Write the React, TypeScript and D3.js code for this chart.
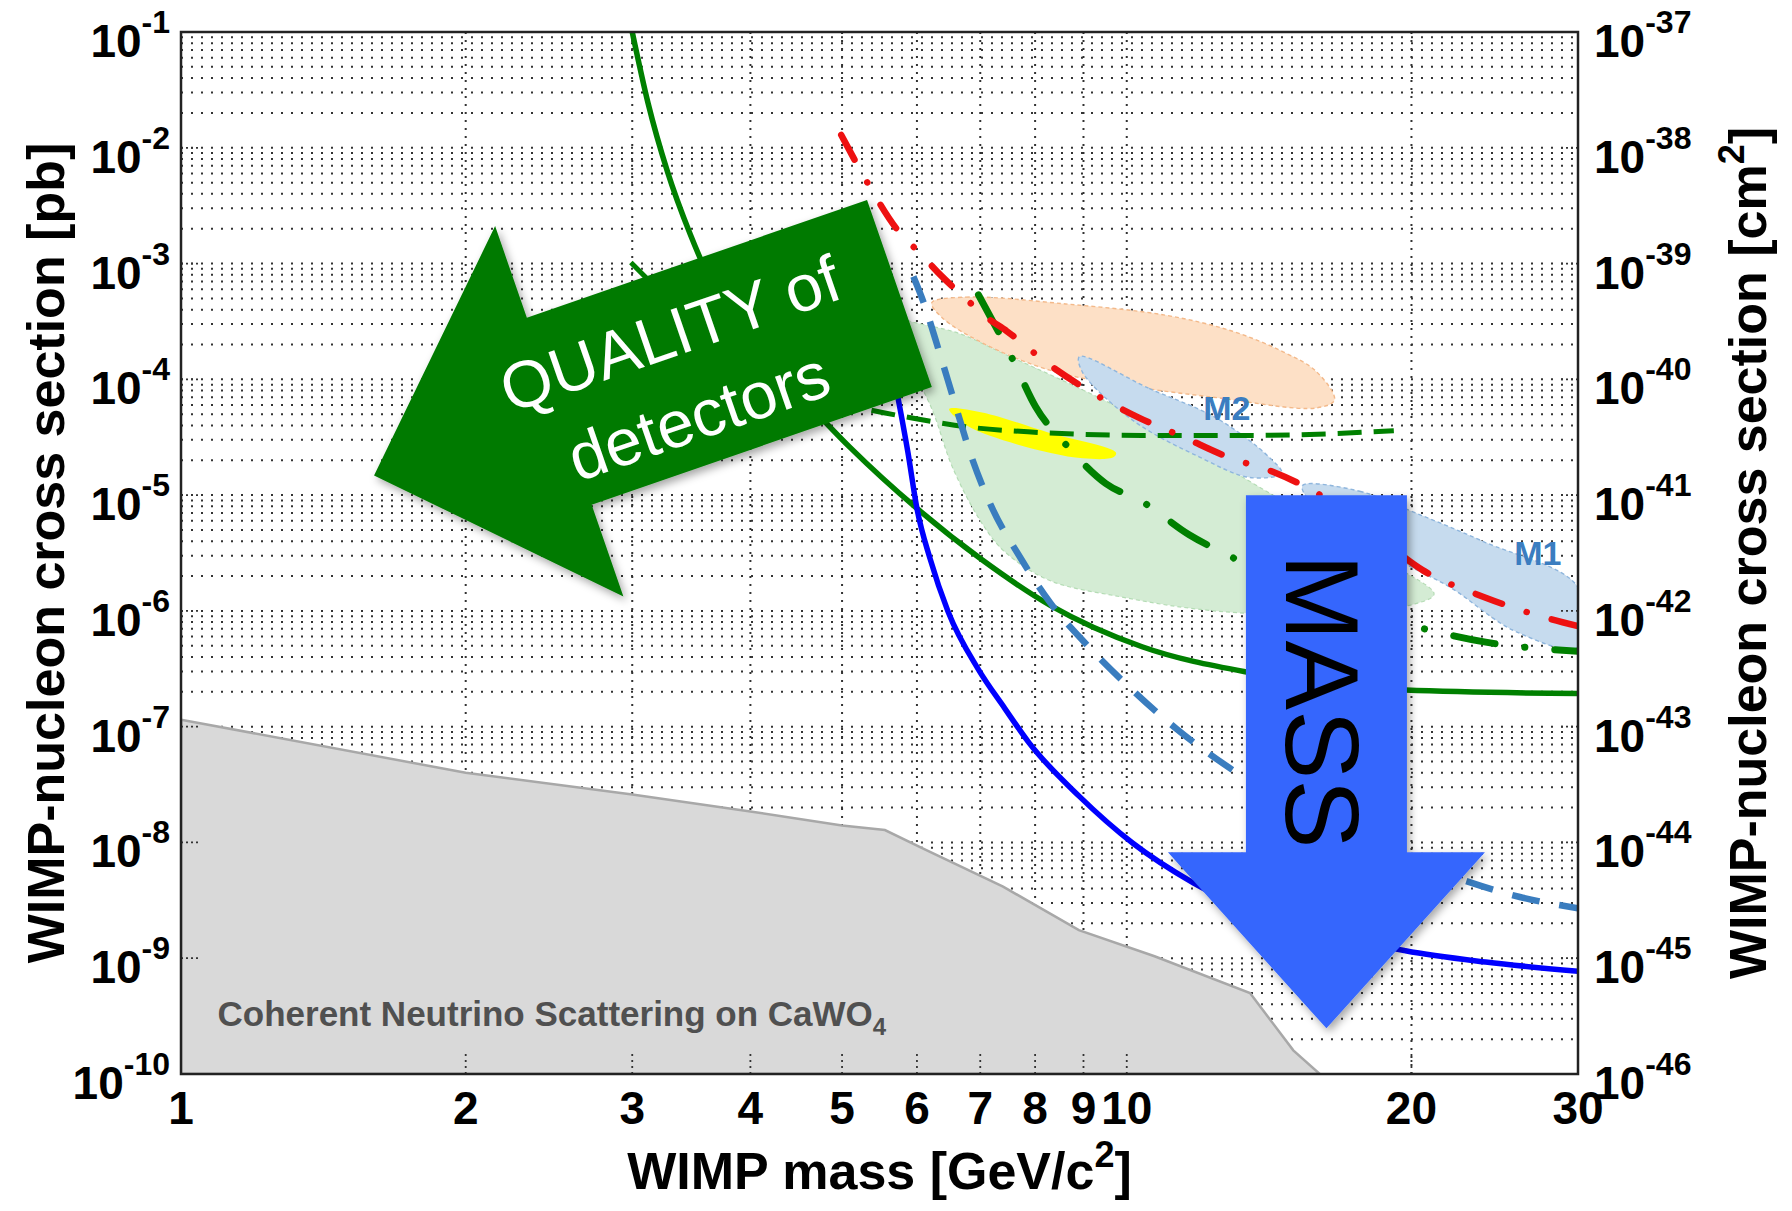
import React from "react";
import * as d3 from "d3";

type Pt = [number, number];

const WIDTH = 1792;
const HEIGHT = 1211;
const PLOT = { left: 181, right: 1578, top: 32, bottom: 1074 };
const FONT = "'Liberation Sans', Arial, Helvetica, sans-serif";

// axes
const massTicks = [1, 2, 3, 4, 5, 6, 7, 8, 9, 10, 20, 30];
const pbExponents = [-1, -2, -3, -4, -5, -6, -7, -8, -9, -10];
const cm2Exponents = [-37, -38, -39, -40, -41, -42, -43, -44, -45, -46];

// coherent neutrino scattering floor on CaWO4 (mass GeV, sigma pb)
const neutrinoFloor: Pt[] = [
  [1, 1.15e-7], [2, 4.0e-8], [3, 2.6e-8], [4, 1.85e-8], [5, 1.4e-8],
  [5.55, 1.28e-8], [6.1, 8.8e-9], [7.4, 4.15e-9], [8.9, 1.75e-9],
  [10.7, 1.04e-9], [13.5, 5.0e-10], [15, 1.6e-10], [16, 1e-10],
];

// signal / allowed regions
const greenRegion: Pt[] = [
  [5.51, 3.65e-4], [5.95, 3.11e-4], [6.66, 2.48e-4], [7.43, 1.65e-4], [8.66, 9.33e-5],
  [10.1, 5.06e-5], [11.94, 2.39e-5], [13.72, 1.21e-5], [16.22, 5.46e-6], [19.16, 2.46e-6],
  [21.13, 1.4e-6], [20.26, 1.16e-6], [17.15, 9.93e-7], [13.72, 9.48e-7], [11.61, 1.06e-6],
  [9.82, 1.33e-6], [8.29, 1.83e-6], [7.43, 3.24e-6], [7.03, 5.7e-6], [6.55, 1.7e-5],
  [6.2, 5.93e-5], [5.87, 1.31e-4], [5.51, 2.07e-4],
];
const orangeRegion: Pt[] = [
  [6.22, 4.58e-4], [6.76, 5.13e-4], [8.62, 4.48e-4], [11.01, 3.57e-4], [12.94, 2.6e-4],
  [14.63, 1.73e-4], [15.86, 1.17e-4], [16.58, 6.64e-5], [15.86, 5.66e-5], [12.45, 6.95e-5],
  [9.74, 9.12e-5], [8.29, 1.2e-4], [7.03, 2.07e-4], [6.38, 3.41e-4],
];
const m2Region: Pt[] = [
  [8.91, 1.57e-4], [10.56, 8.34e-5], [12.45, 4.61e-5], [14.14, 2.13e-5], [14.58, 1.55e-5],
  [13.49, 1.42e-5], [11.94, 2.13e-5], [10.15, 4.42e-5], [8.98, 1.15e-4],
];
const m1Region: Pt[] = [
  [15.34, 1.21e-5], [17.63, 1.08e-5], [20.21, 7.0e-6], [23.83, 3.97e-6], [30, 1.6e-6],
  [30, 4.9e-7], [25.82, 6.59e-7], [21.97, 1.6e-6], [19.76, 2.52e-6], [17.15, 5.21e-6],
  [15.56, 9.2e-6],
];
const yellowRegion: Pt[] = [
  [6.49, 5.53e-5], [7.03, 5.18e-5], [8.29, 3.44e-5], [9.74, 2.33e-5], [9.69, 2.13e-5],
  [8.98, 2.08e-5], [7.66, 2.74e-5], [6.76, 4.03e-5],
];

// exclusion limits
const greenSolid: Pt[] = [
  [3.0, 0.1], [3.117, 2.45e-2], [3.268, 6.25e-3], [3.455, 1.79e-3], [3.652, 6.44e-4],
  [3.916, 2.6e-4], [4.502, 7.44e-5], [5.104, 2.56e-5], [6.0, 7.67e-6], [7.03, 2.76e-6],
  [8.31, 1.11e-6], [10.38, 4.9e-7], [13.34, 2.98e-7], [15.77, 2.43e-7], [19.71, 2.07e-7],
  [30, 1.93e-7],
];
const greenDashed: Pt[] = [
  [2.99, 1.02e-3], [3.408, 3.65e-4], [3.916, 1.47e-4], [4.502, 7.96e-5], [5.175, 5.8e-5],
  [5.948, 4.61e-5], [6.84, 3.85e-5], [7.86, 3.52e-5], [10.38, 3.28e-5], [13.72, 3.28e-5],
  [19.16, 3.6e-5],
];
const greenDashDot: Pt[] = [
  [6.97, 5.37e-4], [7.58, 1.47e-4], [8.01, 5.8e-5], [8.62, 2.74e-5], [9.5, 1.26e-5],
  [10.38, 8.79e-6], [11.64, 4.55e-6], [12.8, 3.02e-6], [15.77, 1.4e-6], [20.55, 7.06e-7],
  [23.96, 5.37e-7], [30, 4.48e-7],
];
const redDashDot: Pt[] = [
  [4.99, 1.29e-2], [5.32, 4.98e-3], [5.72, 1.96e-3], [6.05, 1.22e-3], [6.36, 7.9e-4],
  [6.71, 5.25e-4], [7.09, 3.49e-4], [7.47, 2.6e-4], [8.31, 1.31e-4], [9.21, 7.6e-5],
  [10.27, 4.72e-5], [11.51, 3.14e-5], [12.8, 2.13e-5], [14.27, 1.59e-5], [15.86, 1.05e-5],
  [18.13, 4.86e-6], [20.55, 2.25e-6], [23.96, 1.3e-6], [26.78, 9.5e-7], [30, 7.38e-7],
];
const blueDashed: Pt[] = [
  [5.948, 7.73e-4], [6.1, 4.58e-4], [6.34, 1.69e-4], [6.58, 6.21e-5], [6.84, 2.23e-5],
  [7.19, 8.02e-6], [7.69, 3.02e-6], [8.31, 1.16e-6], [9.05, 5.2e-7], [10.0, 2.3e-7],
  [11.3, 9.5e-8], [13.16, 3.85e-8], [22.65, 4.75e-9], [26.04, 3.38e-9], [30, 2.7e-9],
];
const blueSolid: Pt[] = [
  [5.705, 8.34e-5], [5.867, 2.39e-5], [6.0, 7.67e-6], [6.2, 2.76e-6], [6.47, 9.93e-7],
  [6.97, 3.11e-7], [7.43, 1.44e-7], [7.88, 7.28e-8], [8.91, 2.5e-8], [10.15, 9.84e-9],
  [11.77, 4.45e-9], [19.71, 1.16e-9], [23.96, 9.27e-10], [30, 7.73e-10],
];

// annotation anchors (mass, sigma) of arrow tips and labels
const qualityTip: Pt = [1.6, 1.48e-5];
const massTip: Pt = [16.26, 2.48e-10];
const m2Label: Pt = [12.76, 5.66e-5];
const m1Label: Pt = [27.2, 3.16e-6];
const floorLabel: Pt = [1.093, 2.6e-10];

function arrowPoints(tip: Pt, angleDeg: number, headLen: number, headHalf: number, shaftLen: number, shaftHalf: number): Pt[] {
  const a = (angleDeg * Math.PI) / 180;
  const u = [Math.cos(a), Math.sin(a)];
  const n = [-u[1], u[0]];
  const p = (s: number, t: number): Pt => [tip[0] + u[0] * s + n[0] * t, tip[1] + u[1] * s + n[1] * t];
  return [
    p(0, 0), p(headLen, headHalf), p(headLen, shaftHalf), p(headLen + shaftLen, shaftHalf),
    p(headLen + shaftLen, -shaftHalf), p(headLen, -shaftHalf), p(headLen, -headHalf),
  ];
}

export default function App() {
  const x = d3.scaleLog().domain([1, 30]).range([PLOT.left, PLOT.right]);
  const y = d3.scaleLog().domain([1e-10, 1e-1]).range([PLOT.bottom, PLOT.top]);

  const curve = d3.line<Pt>().x((d) => x(d[0])).y((d) => y(d[1])).curve(d3.curveMonotoneX);
  const blob = d3.line<Pt>().x((d) => x(d[0])).y((d) => y(d[1])).curve(d3.curveCatmullRomClosed.alpha(0.5));
  const poly = d3.line<Pt>().x((d) => x(d[0])).y((d) => y(d[1]));

  const gridY: number[] = [];
  for (let e = -10; e <= -2; e++) for (let k = 1; k <= 9; k++) gridY.push(k * Math.pow(10, e));

  const floorArea = poly([...neutrinoFloor, [16, 1e-10], [1, 1e-10]]) + "Z";

  const qTip: Pt = [x(qualityTip[0]), y(qualityTip[1])];
  const qAngle = -19.1;
  const qArrow = arrowPoints(qTip, qAngle, 196, 196, 360, 99);
  const qa = (qAngle * Math.PI) / 180;
  const qCenter: Pt = [qTip[0] + Math.cos(qa) * 326 - Math.sin(qa) * 6, qTip[1] + Math.sin(qa) * 326 + Math.cos(qa) * 6];

  const mTip: Pt = [x(massTip[0]), y(massTip[1])];
  const mArrow = arrowPoints(mTip, -90, 176, 158.5, 357, 80.5);
  const mCenter: Pt = [mTip[0] - 3, mTip[1] - 327];

  const toPath = (pts: Pt[]) => "M" + pts.map((p) => p.join(",")).join("L") + "Z";

  const W = PLOT.right - PLOT.left;
  const H = PLOT.bottom - PLOT.top;

  return (
    <svg width={WIDTH} height={HEIGHT} style={{ position: "absolute", left: 0, top: 0, background: "#fff" }} fontFamily={FONT}>
      <defs>
        <clipPath id="plot">
          <rect x={PLOT.left} y={PLOT.top} width={W} height={H} />
        </clipPath>
        <filter id="shadow" x="-20%" y="-20%" width="140%" height="140%">
          <feDropShadow dx="3" dy="4" stdDeviation="4" floodColor="#000" floodOpacity="0.35" />
        </filter>
      </defs>

      <rect x={PLOT.left} y={PLOT.top} width={W} height={H} fill="#fff" />

      {/* grid */}
      <g stroke="#1e1e1e" strokeWidth={2} strokeDasharray="2,8" opacity={0.9}>
        {gridY.map((v, i) => (
          <line key={i} x1={PLOT.left} x2={PLOT.right} y1={y(v)} y2={y(v)} />
        ))}
        {massTicks.slice(1, -1).map((m) => (
          <line key={m} x1={x(m)} x2={x(m)} y1={PLOT.top} y2={PLOT.bottom} strokeDasharray="2,6" />
        ))}
      </g>

      <g clipPath="url(#plot)">
        {/* regions */}
        <path d={blob(greenRegion)!} fill="#d4ecd4" stroke="#b5dcb5" strokeWidth={1.2} strokeDasharray="4,3" />
        <path d={blob(orangeRegion)!} fill="#fde0c6" stroke="#f3b98a" strokeWidth={1.4} strokeDasharray="4,3" />
        <path d={blob(m2Region)!} fill="#c6dbee" stroke="#8fb6dd" strokeWidth={1.4} strokeDasharray="4,3" />
        <path d={blob(m1Region)!} fill="#c6dbee" stroke="#8fb6dd" strokeWidth={1.4} strokeDasharray="4,3" />
        <path d={blob(yellowRegion)!} fill="#ffff00" />

        {/* neutrino floor */}
        <path d={floorArea} fill="#d9d9d9" stroke="#a8a8a8" strokeWidth={2.5} />

        {/* limits */}
        <path d={curve(greenSolid)!} fill="none" stroke="#008000" strokeWidth={5.5} />
        <path d={curve(greenDashed)!} fill="none" stroke="#008000" strokeWidth={5} strokeDasharray="24,12" />
        <path d={curve(greenDashDot)!} fill="none" stroke="#008000" strokeWidth={7} strokeDasharray="42,30,0.1,30" strokeLinecap="round" />
        <path d={curve(redDashDot)!} fill="none" stroke="#ee1111" strokeWidth={6.5} strokeDasharray="28,26,0.1,26" strokeLinecap="round" />
        <path d={curve(blueDashed)!} fill="none" stroke="#3a7dbf" strokeWidth={6.5} strokeDasharray="28,20" />
        <path d={curve(blueSolid)!} fill="none" stroke="#0000ff" strokeWidth={5.5} />
      </g>

      {/* ticks */}
      <g stroke="#333" strokeWidth={1.8}>
        {pbExponents.map((e) => (
          <g key={e}>
            <line x1={PLOT.left} x2={PLOT.left + 18} y1={y(Math.pow(10, e))} y2={y(Math.pow(10, e))} strokeDasharray="2,3" />
            <line x1={PLOT.right} x2={PLOT.right - 18} y1={y(Math.pow(10, e))} y2={y(Math.pow(10, e))} strokeDasharray="2,3" />
          </g>
        ))}
        {massTicks.map((m) => (
          <line key={m} x1={x(m)} x2={x(m)} y1={PLOT.bottom} y2={PLOT.bottom - 24} strokeDasharray="2,4" />
        ))}
      </g>

      {/* frame */}
      <rect x={PLOT.left} y={PLOT.top} width={W} height={H} fill="none" stroke="#222" strokeWidth={2.5} />

      {/* region labels */}
      <text x={x(m2Label[0])} y={y(m2Label[1])} dy="0.36em" textAnchor="middle" fontSize={34} fontWeight="bold" fill="#3b7dc0">M2</text>
      <text x={x(m1Label[0])} y={y(m1Label[1])} dy="0.36em" textAnchor="middle" fontSize={34} fontWeight="bold" fill="#3b7dc0">M1</text>
      <text x={x(floorLabel[0])} y={y(floorLabel[1])} fontSize={35} fontWeight="bold" fill="#505050">
        Coherent Neutrino Scattering on CaWO<tspan fontSize={24} dy={9}>4</tspan>
      </text>

      {/* arrows */}
      <g filter="url(#shadow)">
        <path d={toPath(qArrow)} fill="#037a03" />
        <path d={toPath(mArrow)} fill="#3466fd" />
      </g>
      <g transform={`translate(${qCenter[0]},${qCenter[1]}) rotate(${qAngle})`} fill="#fff" fontSize={66} textAnchor="middle">
        <text x={0} y={-20}>QUALITY of</text>
        <text x={0} y={67}>detectors</text>
      </g>
      <text transform={`translate(${mCenter[0]},${mCenter[1]}) rotate(90)`} dy="0.36em" textAnchor="middle" fontSize={104} fill="#000">MASS</text>

      {/* tick labels */}
      <g fontWeight="bold" fill="#000">
        {pbExponents.map((e) => (
          <text key={e} x={170} y={y(Math.pow(10, e)) + 25} textAnchor="end" fontSize={46}>
            10<tspan fontSize={32} dy={-24}>{e}</tspan>
          </text>
        ))}
        {cm2Exponents.map((e, i) => (
          <text key={e} x={1594} y={y(Math.pow(10, pbExponents[i])) + 25} textAnchor="start" fontSize={46}>
            10<tspan fontSize={32} dy={-24}>{e}</tspan>
          </text>
        ))}
        {massTicks.map((m) => (
          <text key={m} x={x(m)} y={1124} textAnchor="middle" fontSize={46}>{m}</text>
        ))}
      </g>

      {/* axis titles */}
      <text x={(PLOT.left + PLOT.right) / 2} y={1189} textAnchor="middle" fontSize={52} fontWeight="bold">
        WIMP mass [GeV/c<tspan fontSize={36} dy={-22}>2</tspan><tspan dy={22}>]</tspan>
      </text>
      <text transform={`translate(64,${(PLOT.top + PLOT.bottom) / 2}) rotate(-90)`} textAnchor="middle" fontSize={52} fontWeight="bold">
        WIMP-nucleon cross section [pb]
      </text>
      <text transform={`translate(1766,${(PLOT.top + PLOT.bottom) / 2}) rotate(-90)`} textAnchor="middle" fontSize={52} fontWeight="bold">
        WIMP-nucleon cross section [cm<tspan fontSize={36} dy={-22}>2</tspan><tspan dy={22}>]</tspan>
      </text>
    </svg>
  );
}
